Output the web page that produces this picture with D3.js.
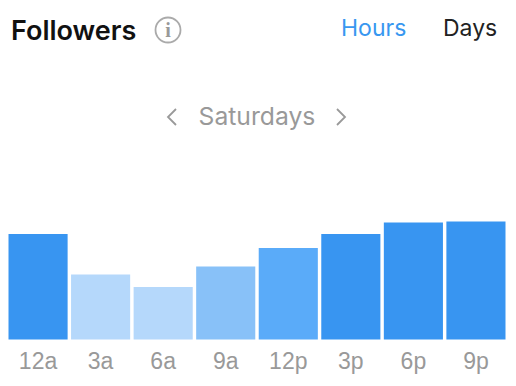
<!DOCTYPE html>
<html lang="en">
<head>
    <meta charset="UTF-8">
    <title>Followers</title>
    <style>
        html, body { margin: 0; padding: 0; background: #fff; }
        svg { display: block; font-family: Inter, Roboto, Arial, sans-serif; }
        .tick line, .domain { display: none; }
        .tick text { font-size: 23px; fill: #999; }
    </style>
</head>
<body>
    <svg width="516" height="386"></svg>
    <script src="https://d3js.org/d3.v7.min.js"></script>
    <script>
        const width = 516;
        const height = 386;

        const hours = ["12a", "3a", "6a", "9a", "12p", "3p", "6p", "9p"];
        const followers = [105.5, 65, 52.5, 73, 91.5, 105.5, 117, 118];
        const shades = ["#3895f1", "#b5d8fb", "#b5d8fb", "#88c1f8", "#5aabf9", "#3895f1", "#3895f1", "#3895f1"];

        const svg = d3.select("svg");

        const x = d3.scaleBand().domain(hours).range([8.5, 505.5]).paddingInner(0.055);
        const y = d3.scaleLinear().domain([0, 118]).range([339.5, 221.5]);

        svg.selectAll(".bar")
            .data(hours)
            .join("rect")
            .attr("class", "bar")
            .attr("x", d => x(d))
            .attr("width", x.bandwidth())
            .attr("y", (d, i) => y(followers[i]))
            .attr("height", (d, i) => y(0) - y(followers[i]))
            .attr("fill", (d, i) => shades[i]);

        svg.append("g")
            .attr("transform", "translate(0,343)")
            .call(d3.axisBottom(x).tickSize(0).tickPadding(10));

        // header
        svg.append("text").attr("x", 11).attr("y", 40)
            .attr("font-size", 27).attr("font-weight", 600).attr("fill", "#111")
            .text("Followers");

        svg.append("circle").attr("cx", 168).attr("cy", 30).attr("r", 12.5)
            .attr("fill", "none").attr("stroke", "#aaa").attr("stroke-width", 1.8);
        svg.append("text").attr("x", 168).attr("y", 37).attr("text-anchor", "middle")
            .attr("font-family", "'Liberation Serif', serif").attr("font-size", 20).attr("font-weight", 700).attr("fill", "#999")
            .text("i");

        svg.append("text").attr("x", 341).attr("y", 36)
            .attr("font-size", 23).attr("fill", "#3897f0").text("Hours");
        svg.append("text").attr("x", 443).attr("y", 36)
            .attr("font-size", 23).attr("fill", "#222").text("Days");

        // day selector
        svg.append("text").attr("x", 257).attr("y", 125).attr("text-anchor", "middle")
            .attr("font-size", 24.7).attr("fill", "#999").text("Saturdays");

        const chevron = d3.line();
        svg.append("path").attr("d", chevron([[176, 109], [168, 117], [176, 125]]))
            .attr("fill", "none").attr("stroke", "#999").attr("stroke-width", 1.8);
        svg.append("path").attr("d", chevron([[337, 109], [345, 117], [337, 125]]))
            .attr("fill", "none").attr("stroke", "#999").attr("stroke-width", 1.8);
    </script>
</body>
</html>
